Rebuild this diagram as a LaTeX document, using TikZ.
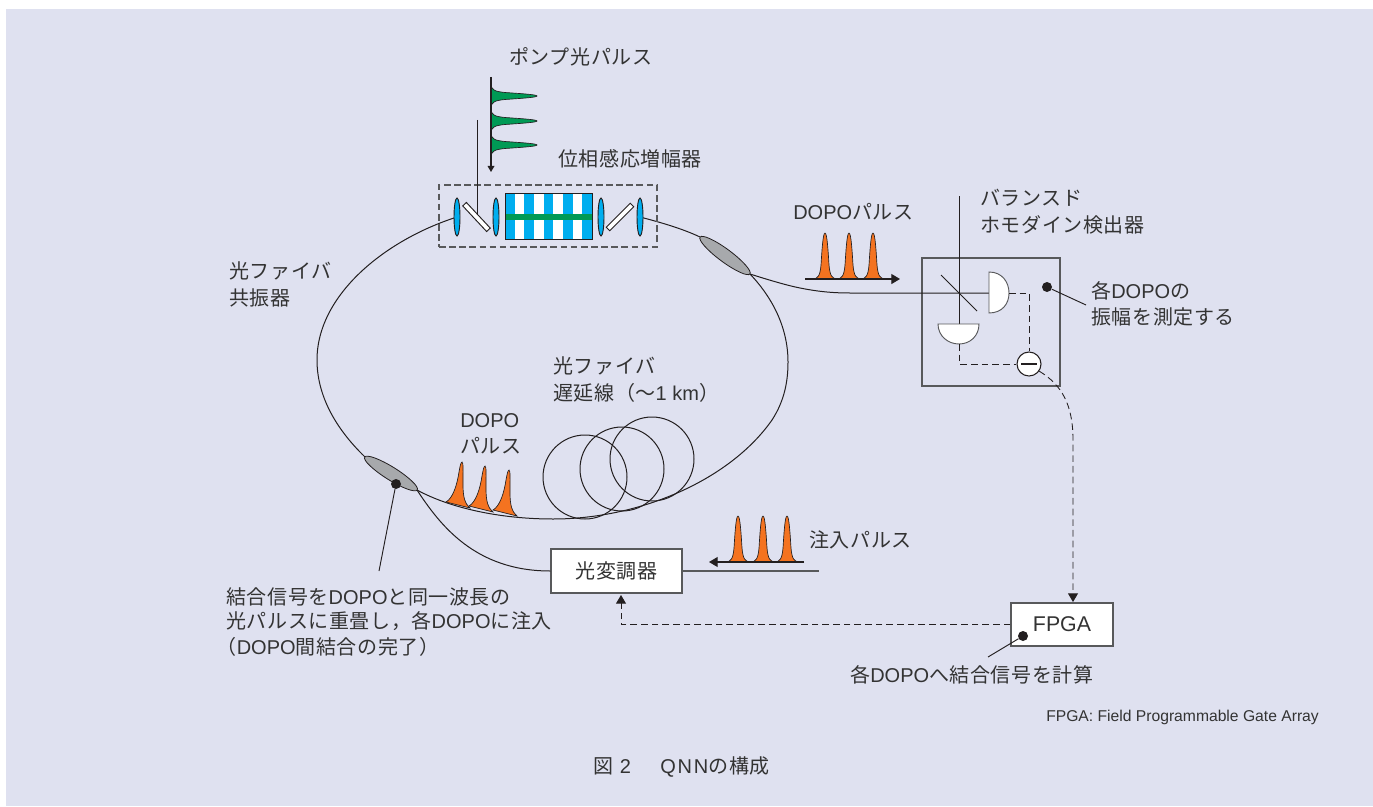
\documentclass[tikz,border=0pt]{standalone}
\usepackage{fontspec}
\usetikzlibrary{arrows.meta,calc}
\setmainfont{Noto Sans CJK JP}
\newfontfamily\jpf[LetterSpace=3]{Noto Sans CJK JP}
\newfontfamily\latf{Liberation Sans}
\newfontfamily\capl[LetterSpace=9]{Liberation Sans}
\newcommand\La[1]{{\latf #1}}
\definecolor{bgc}{HTML}{DFE1F0}
\definecolor{inkc}{HTML}{333333}
\definecolor{linec}{HTML}{231F20}
\definecolor{greyl}{HTML}{58595B}
\definecolor{orangec}{HTML}{F47320}
\definecolor{greenc}{HTML}{009A55}
\definecolor{bluec}{HTML}{00AEEF}
\definecolor{greyf}{HTML}{A7A9AC}
\tikzset{
  x=0.75pt,y=-0.75pt,
  lbl/.style={inner sep=0pt,anchor=west,text=inkc,font=\fontsize{15}{18}\selectfont\jpf},
  fib/.style={draw=linec,line width=0.75pt},
  box/.style={draw=greyl,fill=white,line width=1pt,inner sep=0pt,text=inkc,font=\fontsize{15}{18}\selectfont\jpf},
  dsh/.style={draw=linec,line width=0.65pt,dash pattern=on 5pt off 3pt},
  tip/.style={-{Triangle[length=6.5pt,width=7.5pt]}},
  lens/.style={draw=linec,fill=bluec,line width=0.7pt},
  mirr/.style={draw=linec,fill=white,line width=0.7pt},
  cpl/.style={draw=linec,fill=greyf,line width=0.6pt},
  pulse/.style={draw=linec,fill=orangec,line width=0.5pt},
  gpulse/.style={draw=linec,fill=greenc,line width=0.5pt},
  dotm/.style={circle,fill=linec,inner sep=0pt,minimum size=7.5pt},
  ptr/.style={draw=linec,line width=0.7pt},
}
\newcommand\upulse[2]{\path[pulse,shift={(#1,#2)}] (-13,0) .. controls (-7,0) and (-5,-3) .. (-4,-14) .. controls (-3,-30) and (-2,-46) .. (0,-46) .. controls (2,-46) and (3,-30) .. (4,-14) .. controls (5,-3) and (7,0) .. (13,0) -- cycle;}
\newcommand\gpulse[1]{\path[gpulse,shift={(491,#1)}] (0,-12) .. controls (0,-6) and (4,-4.5) .. (14,-3.5) .. controls (28,-2.5) and (46,-1.5) .. (46,0) .. controls (46,1.5) and (28,2.5) .. (14,3.5) .. controls (4,4.5) and (0,6) .. (0,12) -- cycle;}
\newcommand\spulse[2]{\path[pulse,shift={(#1,#2)}] (446,502) .. controls (453,498) and (457,485) .. (459,472) .. controls (460,466) and (461,462) .. (462,462) .. controls (463.5,462) and (463,472) .. (463,485) .. controls (463,497) and (465,504) .. (470,508) -- cycle;}
\begin{document}
\begin{tikzpicture}
\useasboundingbox (0,0) rectangle (1373,806);
\fill[white] (0,0) rectangle (1373,806);
\fill[bgc] (6,9) rectangle (1373,806);

% fibre ring
\coordinate (l1) at (457,217);
\coordinate (l2) at (496,217);
\coordinate (l3) at (601,217);
\coordinate (l4) at (640,217);
\coordinate (c1a) at (700,237);
\coordinate (c1b) at (750,274);
\coordinate (c2a) at (365,457);
\coordinate (c2b) at (417,490);
\path[fib] (l1) .. controls (385,240) and (317,295) .. (317,360) .. controls (317,395) and (335,428) .. (c2a);
\path[fib] (c2b) .. controls (450,508) and (500,519) .. (553,519) .. controls (640,519) and (730,480) .. (772,420) .. controls (785,400) and (788,380) .. (788,362) .. controls (788,325) and (770,295) .. (c1b);
\path[fib] (l4) .. controls (663,223) and (683,229) .. (c1a);

% fibre loops
\node[circle,fib,minimum size=63pt,inner sep=0pt] (loopa) at (585,477) {};
\node[circle,fib,minimum size=63pt,inner sep=0pt] (loopb) at (622,469) {};
\node[circle,fib,minimum size=63pt,inner sep=0pt] (loopc) at (652,459) {};

% amplifier
\node[draw=greyl,line width=0.9pt,dash pattern=on 5pt off 2.6pt,minimum width=163.5pt,minimum height=46.5pt,inner sep=0pt] (ampbox) at (548,216) {};
\foreach \i in {0,...,8}{
  \pgfmathsetmacro\xa{505+\i*9.667}
  \pgfmathsetmacro\xb{505+(\i+1)*9.667}
  \ifodd\i \fill[white] (\xa,193) rectangle (\xb,239); \else \fill[bluec] (\xa,193) rectangle (\xb,239); \fi
}
\fill[greenc] (505,214) rectangle (592,220);
\node[draw=linec,line width=0.7pt,minimum width=65.25pt,minimum height=34.5pt,inner sep=0pt] (crystal) at (548.5,216) {};
\foreach \p in {l1,l2,l3,l4}{
  \path[lens] (\p) ellipse [x radius=3,y radius=19];
}
\path[mirr,rotate around={-47:(476.5,217)}] (459,214.5) rectangle (494,219.5);
\path[mirr,rotate around={45:(620,217)}] (603,214.5) rectangle (637,219.5);
\coordinate (pumpin) at (477,120);
\coordinate (pumpm) at (477,215);
\path[fib] (pumpin) -- (pumpm);

% pump pulses
\coordinate (gtop) at (491,77);
\coordinate (gbot) at (491,172);
\gpulse{96}
\gpulse{121}
\gpulse{145}
\draw[draw=linec,line width=0.9pt,-{Triangle[length=4.5pt,width=5pt]}] (gtop) -- (gbot);

% couplers
\path[cpl,rotate around={-36.5:(725,255.5)}] (725,255.5) ellipse [x radius=31,y radius=6.5];
\path[cpl,rotate around={-32:(391,473.5)}] (391,473.5) ellipse [x radius=31,y radius=6.5];

% output fibre and detector
\node[draw=greyl,line width=1pt,minimum width=103.5pt,minimum height=96pt,inner sep=0pt] (detbox) at (991,322) {};
\coordinate (lo) at (959,196);
\coordinate (d1) at (989,293);
\coordinate (d1r) at (1009,293);
\coordinate (d2) at (959,324);
\coordinate (d2b) at (959,344);
\path[fib] (c1b) .. controls (775,282) and (790,286) .. (800,288) .. controls (815,291) and (830,293) .. (850,293) -- (d1);
\path[fib] (lo) -- (d2);
\coordinate (bsa) at (941,275);
\coordinate (bsb) at (977,311);
\path[fib] (bsa) -- (bsb);
\path[mirr,draw=greyl] (989,272) .. controls (1002,272) and (1009,282) .. (d1r) .. controls (1009,304) and (1002,313) .. (989,313) -- cycle;
\path[mirr,draw=greyl] (938,324) -- (979,324) .. controls (979,336) and (970,344) .. (d2b) .. controls (948,344) and (938,336) .. (938,324) -- cycle;
\node[circle,draw=linec,fill=white,line width=0.8pt,minimum size=18pt,inner sep=0pt] (minus) at (1029,364) {};
\coordinate (ma) at (1021,364);
\coordinate (mb) at (1037,364);
\path[draw=linec,line width=1pt] (ma) -- (mb);
\path[dsh] (d1r) -| (minus.north);
\path[dsh] (d2b) |- (minus.west);

% boxes
\node[box,minimum width=98.25pt,minimum height=33pt] (mod) at (616.5,571) {光変調器};
\node[box,minimum width=76.5pt,minimum height=32.25pt,font=\fontsize{16}{18}\selectfont\latf] (fpga) at (1062,624.5) {FPGA};

% modulator lines
\coordinate (inj) at (819,571);
\path[fib] (c2b) .. controls (440,525) and (475,571) .. (mod.west);
\path[fib,line width=1pt,draw=greyl] (mod.east) -- (inj);

% dashed signal lines
\coordinate (ft) at (1073,602);
\coordinate (mb2) at (621,595);
\path[dsh,tip] (minus.-35) .. controls (1062,385) and (1073,405) .. (1073,440) -- (ft);
\path[dsh,tip] (fpga.west) -| (mb2);

% DOPO pulses
\coordinate (aa) at (805,279);
\coordinate (ab) at (900,279);
\upulse{825}{279}\upulse{849}{279}\upulse{873}{279}
\draw[draw=linec,line width=0.8pt,tip] (aa) -- (ab);
\coordinate (ba) at (804,562);
\coordinate (bb) at (709,562);
\upulse{738}{562}\upulse{763}{562}\upulse{787}{562}
\draw[draw=linec,line width=0.8pt,tip] (ba) -- (bb);
\spulse{0}{0}\spulse{23}{4}\spulse{47}{8}

% callouts
\node[dotm] (dota) at (396,484) {};
\coordinate (dotaE) at (379,571);
\path[ptr] (dota) -- (dotaE);
\node[dotm] (dotb) at (1047,287) {};
\coordinate (dotbE) at (1086,305);
\path[ptr] (dotb) -- (dotbE);
\node[dotm] (dotc) at (1023,636) {};
\coordinate (dotcE) at (988,657);
\path[ptr] (dotc) -- (dotcE);

% labels
\node[lbl] (t1) at (509,57) {ポンプ光パルス};
\node[lbl] (t2) at (558,159) {位相感応増幅器};
\node[lbl] (t3) at (229,271) {光ファイバ};
\node[lbl] (t4) at (229,298) {共振器};
\node[lbl] (t5) at (793,212) {\La{DOPO}パルス};
\node[lbl] (t6) at (980,198) {バランスド};
\node[lbl] (t7) at (980,225) {ホモダイン検出器};
\node[lbl] (t8) at (1091,291) {各\La{DOPO}の};
\node[lbl] (t9) at (1091,317) {振幅を測定する};
\node[lbl] (t10) at (553,366) {光ファイバ};
\node[lbl] (t11) at (553,393) {遅延線（〜\La{1 km}）};
\node[lbl] (t12) at (460,421) {\La{DOPO}};
\node[lbl] (t13) at (460,446) {パルス};
\node[lbl] (t14) at (809,540) {注入パルス};
\node[lbl] (t15) at (226,597) {結合信号を\La{DOPO}と同一波長の};
\node[lbl] (t16) at (226,621) {光パルスに重畳し，各\La{DOPO}に注入};
\node[lbl] (t17) at (216.5,647) {（\La{DOPO}間結合の完了）};
\node[lbl] (t18) at (850,675) {各\La{DOPO}へ結合信号を計算};
\node[lbl,font=\fontsize{11.75}{14}\selectfont\latf] (t19) at (1046,717.5) {FPGA: Field Programmable Gate Array};
\node[lbl] (t20) at (593,767) {図\hspace{5pt}{\capl 2}\hspace{22pt}{\capl QNN}の構成};
\end{tikzpicture}
\end{document}
